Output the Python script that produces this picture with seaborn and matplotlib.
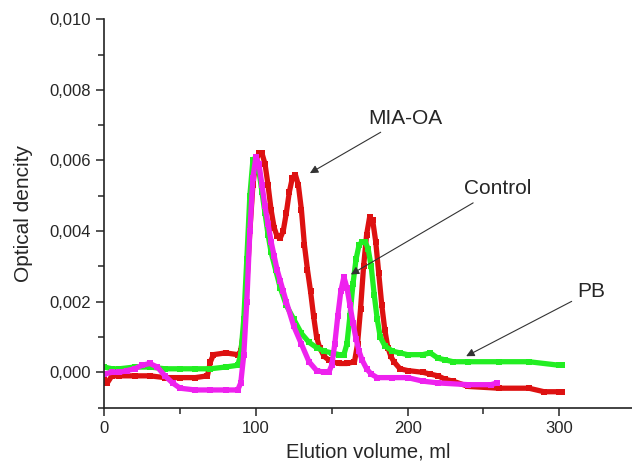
import numpy as np
import pandas as pd
import matplotlib
matplotlib.use('Agg')
import matplotlib.pyplot as plt
import matplotlib.ticker as mticker
import seaborn as sns

# elution volume (ml) / optical density (x1e-3)
red_x = [0, 2, 5, 10, 20, 30, 40, 50, 60, 68, 70, 72, 80, 88, 90, 92, 94, 96, 98, 100,
         102, 104, 106, 108, 110, 112, 114, 116, 118, 120, 122, 124, 126, 128, 130, 132,
         134, 136, 138, 140, 142, 145, 148, 150, 155, 160, 165, 167, 169, 171, 173, 175,
         177, 179, 181, 183, 185, 187, 189, 191, 195, 200, 210, 215, 220, 225, 230, 240,
         260, 280, 290, 300, 302]
red_y = [-0.2, -0.3, -0.1, -0.1, -0.1, -0.1, -0.15, -0.15, -0.15, -0.1, 0.3, 0.5, 0.55,
         0.5, 0.6, 1.2, 2.5, 4.0, 5.3, 6.0, 6.2, 6.2, 5.9, 5.3, 4.6, 4.1, 3.85, 3.8, 4.0,
         4.5, 5.1, 5.5, 5.6, 5.3, 4.6, 3.6, 2.9, 2.3, 1.6, 1.0, 0.7, 0.45, 0.35, 0.3, 0.25,
         0.25, 0.3, 0.8, 1.8, 3.0, 3.9, 4.4, 4.3, 3.7, 2.8, 1.9, 1.2, 0.7, 0.45, 0.3, 0.1,
         0.05, 0.0, -0.05, -0.1, -0.2, -0.25, -0.4, -0.45, -0.45, -0.55, -0.55, -0.55]

green_x = [0, 5, 10, 20, 30, 40, 50, 60, 70, 80, 88, 90, 92, 94, 96, 98, 100, 102, 104,
           106, 108, 110, 113, 116, 120, 125, 130, 135, 140, 145, 150, 155, 158, 160, 162,
           164, 166, 168, 170, 172, 174, 176, 178, 180, 182, 185, 190, 195, 200, 210, 215,
           220, 225, 230, 240, 260, 280, 300, 302]
green_y = [0.15, 0.1, 0.1, 0.15, 0.15, 0.1, 0.1, 0.1, 0.1, 0.15, 0.2, 0.5, 1.5, 3.2, 5.0,
           6.0, 6.1, 5.7, 5.1, 4.5, 3.9, 3.4, 2.9, 2.4, 1.9, 1.5, 1.1, 0.85, 0.7, 0.6, 0.55,
           0.5, 0.5, 0.8, 1.6, 2.5, 3.2, 3.6, 3.7, 3.7, 3.5, 3.0, 2.2, 1.5, 1.0, 0.75, 0.6,
           0.55, 0.5, 0.5, 0.55, 0.4, 0.35, 0.3, 0.3, 0.3, 0.3, 0.2, 0.2]

magenta_x = [0, 5, 10, 15, 20, 25, 30, 35, 40, 45, 50, 60, 70, 80, 88, 90, 92, 94, 96, 98,
             100, 102, 104, 106, 108, 110, 112, 114, 116, 118, 120, 125, 130, 135, 140, 145,
             148, 150, 152, 154, 156, 158, 160, 162, 164, 166, 168, 170, 173, 176, 180, 190,
             200, 210, 220, 240, 255, 259]
magenta_y = [-0.05, 0.0, 0.0, 0.05, 0.1, 0.2, 0.25, 0.15, -0.1, -0.3, -0.45, -0.5, -0.5,
             -0.5, -0.5, -0.3, 0.5, 2.0, 4.0, 5.5, 6.1, 5.9, 5.3, 4.7, 4.2, 3.7, 3.3, 2.9,
             2.6, 2.3, 2.0, 1.3, 0.8, 0.3, 0.05, 0.0, 0.0, 0.2, 0.8, 1.6, 2.3, 2.7, 2.4, 1.9,
             1.4, 0.95, 0.6, 0.35, 0.1, -0.05, -0.15, -0.15, -0.15, -0.25, -0.3, -0.35,
             -0.35, -0.3]

labels = ['MIA-OA', 'Control', 'PB']

sns.set_style('ticks')
plt.rcParams['font.family'] = ['Liberation Sans', 'DejaVu Sans']

fig, ax = plt.subplots(figsize=(6.32, 4.68), dpi=100)
fig.subplots_adjust(left=0.165, right=1.0, bottom=0.129, top=0.959)

series = [(red_x, red_y, '#dd1111'), (green_x, green_y, '#22ee22'),
          (magenta_x, magenta_y, '#ee22ee')]
for xs, ys, col in series:
    df = pd.DataFrame({'x': xs, 'y': np.array(ys) * 1e-3})
    sns.lineplot(data=df, x='x', y='y', ax=ax, color=col, linewidth=3.8,
                 marker='s', markersize=4, markeredgewidth=0, sort=False,
                 estimator=None)

ax.set_xlim(0, 348)
ax.set_ylim(-0.001, 0.010)
ax.xaxis.set_major_locator(mticker.MultipleLocator(100))
ax.xaxis.set_minor_locator(mticker.MultipleLocator(50))
ax.yaxis.set_major_locator(mticker.MultipleLocator(0.002))
ax.yaxis.set_minor_locator(mticker.MultipleLocator(0.001))
ax.yaxis.set_major_formatter(mticker.FuncFormatter(lambda v, p: f'{v:.3f}'.replace('.', ',')))
ax.tick_params(which='major', direction='out', length=6, width=1.1, labelsize=12)
ax.tick_params(which='minor', direction='out', length=4, width=1.1)
for s in ['top', 'right']:
    ax.spines[s].set_visible(False)
for s in ['left', 'bottom']:
    ax.spines[s].set_linewidth(1.2)
    ax.spines[s].set_color('#222222')

ax.set_xlabel('Elution volume, ml', fontsize=14.5, labelpad=5)
ax.set_ylabel('Optical dencity', fontsize=15, labelpad=12)

arrow = dict(arrowstyle='-|>', color='#333333', lw=0.8, mutation_scale=12)
ax.annotate(labels[0], xy=(134, 0.0056), xytext=(174, 0.0072), fontsize=15,
            va='center', ha='left', arrowprops=arrow)
ax.annotate(labels[1], xy=(161, 0.00273), xytext=(237, 0.0052), fontsize=15,
            va='center', ha='left', arrowprops=arrow)
ax.annotate(labels[2], xy=(237, 0.00042), xytext=(312, 0.0023), fontsize=15,
            va='center', ha='left', arrowprops=arrow)

fig.savefig('out.png', dpi=100)
